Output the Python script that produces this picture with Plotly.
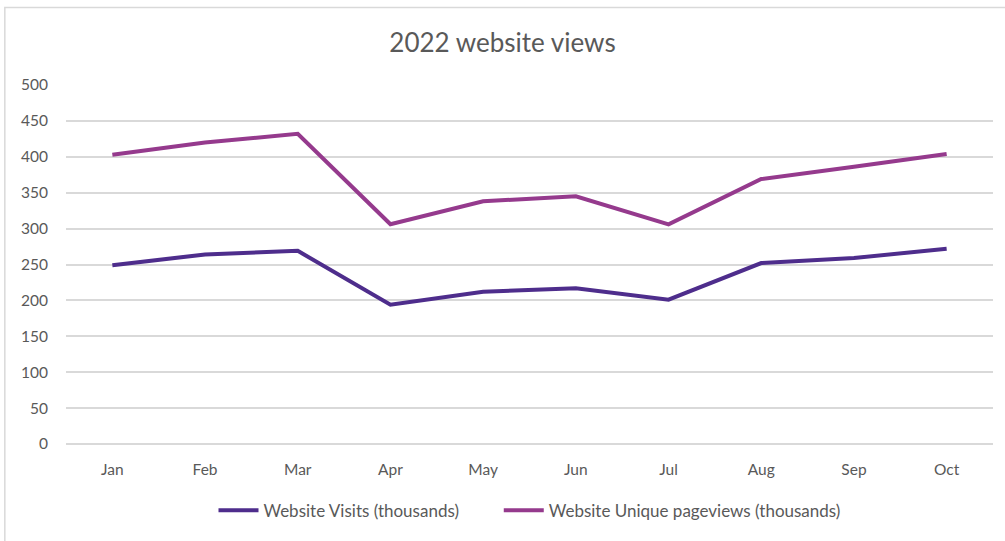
import plotly.graph_objects as go

months = ["Jan", "Feb", "Mar", "Apr", "May", "Jun", "Jul", "Aug", "Sep", "Oct"]
visits = [249, 264, 269, 194, 212, 217, 201, 252, 259, 272]
pageviews = [403, 420, 432, 306, 338, 345, 306, 369, 386, 404]
y_ticks = [0, 50, 100, 150, 200, 250, 300, 350, 400, 450, 500]

fig = go.Figure()
fig.add_trace(go.Scatter(x=months, y=visits, mode="lines",
                         name="Website Visits (thousands)" + "\u00a0" * 8,
                         line=dict(color="#4E2D8C", width=4)))
fig.add_trace(go.Scatter(x=months, y=pageviews, mode="lines",
                         name="Website Unique pageviews (thousands)",
                         line=dict(color="#953A8D", width=4)))

fig.update_layout(
    width=1005, height=541,
    margin=dict(l=66, r=12, t=85, b=94),
    paper_bgcolor="white", plot_bgcolor="white",
    font=dict(family="Lato, Open Sans, sans-serif", color="#595959", size=15),
    title=dict(text="2022 website views", x=0.5, xanchor="center",
               y=1 - 43 / 541, yanchor="middle",
               font=dict(size=26, color="#595959")),
    showlegend=True,
    legend=dict(orientation="h", x=0.5, xanchor="center", y=-0.186,
                yanchor="middle", font=dict(size=17, color="#595959"),
                itemwidth=40, tracegroupgap=0),
    xaxis=dict(showgrid=False, showline=False, ticks="",
               range=[-0.5, 9.5],
               ticklabelstandoff=14, tickfont=dict(size=15.5)),
    yaxis=dict(range=[0, 500], tickvals=y_ticks, showgrid=True,
               gridcolor="#D9D9D9", gridwidth=1.5, zeroline=True,
               zerolinecolor="#D9D9D9", zerolinewidth=1.5,
               ticks="", ticklabelstandoff=17, tickfont=dict(size=15.5)),
    shapes=[dict(type="rect", xref="paper", yref="paper",
                 x0=-0.066, x1=1.1, y0=-0.4, y1=1.216,
                 line=dict(color="#D9D9D9", width=1.5), layer="below")],
)

fig.write_html("out.html")
